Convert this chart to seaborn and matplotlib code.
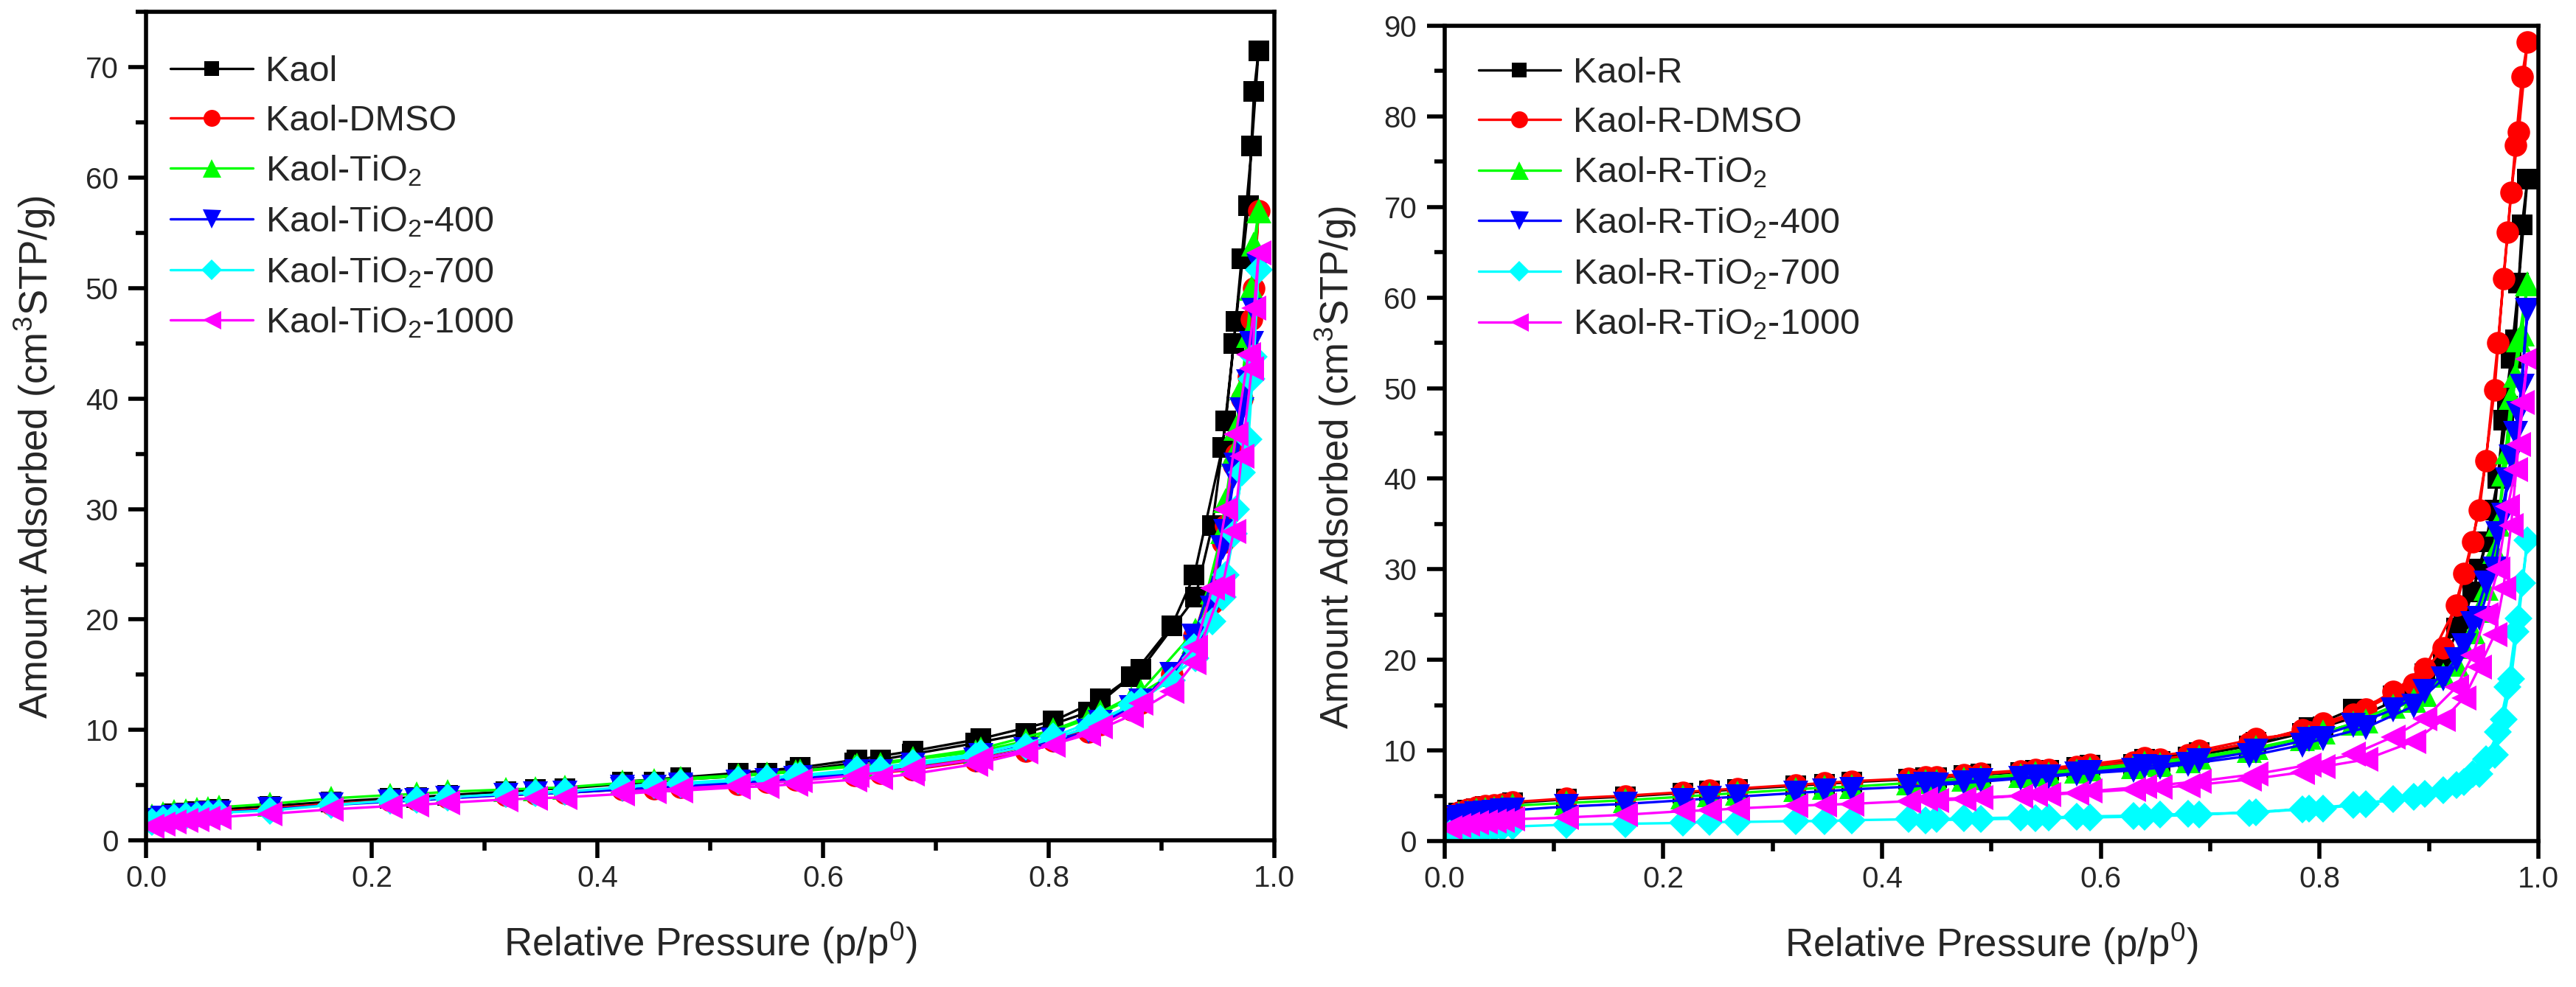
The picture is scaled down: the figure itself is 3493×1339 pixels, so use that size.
import matplotlib
matplotlib.use('Agg')
import pandas as pd
import matplotlib.pyplot as plt
from matplotlib.ticker import MultipleLocator, FormatStrFormatter
import seaborn as sns

sns.set_theme(style='ticks')
plt.rcParams['font.family'] = ['Liberation Sans', 'DejaVu Sans']
plt.rcParams['mathtext.fontset'] = 'custom'
plt.rcParams['mathtext.rm'] = 'Liberation Sans'
plt.rcParams['mathtext.default'] = 'regular'

# ---- left panel: Kaol samples ----
p_ads_l = [0.005, 0.015, 0.025, 0.035, 0.045, 0.055, 0.065, 0.110, 0.164, 0.216, 0.240, 0.267,
           0.319, 0.345, 0.371, 0.422, 0.450, 0.474, 0.525, 0.550, 0.576, 0.628, 0.651, 0.679,
           0.735, 0.780, 0.835, 0.873, 0.909, 0.929, 0.954, 0.964, 0.971, 0.980, 0.986]
p_des_l = [0.982, 0.977, 0.966, 0.957, 0.945, 0.930, 0.882, 0.846, 0.804, 0.740, 0.680, 0.630,
           0.580, 0.525, 0.474, 0.422]

kaol_ads = [2.0, 2.2, 2.4, 2.5, 2.6, 2.7, 2.8, 3.1, 3.5, 3.8, 3.9, 4.1, 4.4, 4.6, 4.7, 5.1, 5.3, 5.5,
            5.8, 6.1, 6.3, 7.0, 7.3, 7.8, 8.8, 9.7, 11.6, 14.8, 19.4, 24.0, 35.6, 45.0, 52.7, 62.9, 71.5]
kaol_des = [67.8, 57.5, 47.0, 38.0, 28.5, 22.0, 15.5, 12.8, 10.8, 9.2, 8.1, 7.3, 6.6, 6.1, 5.7, 5.3]

dmso_ads = [1.8, 2.0, 2.2, 2.3, 2.4, 2.5, 2.6, 2.9, 3.3, 3.6, 3.7, 3.9, 4.1, 4.2, 4.3, 4.6, 4.7, 4.8,
            5.1, 5.3, 5.5, 5.9, 6.1, 6.4, 7.2, 8.1, 9.8, 11.8, 15.0, 18.5, 27.0, 34.0, 40.0, 47.2, 57.0]
dmso_des = [50.0, 42.0, 35.0, 28.5, 21.5, 17.5, 12.4, 10.5, 9.0, 7.6, 6.7, 6.1, 5.6, 5.2, 4.9, 4.7]

tio2_ads = [2.2, 2.4, 2.6, 2.7, 2.8, 2.9, 3.0, 3.3, 3.8, 4.1, 4.2, 4.4, 4.6, 4.7, 4.8, 5.2, 5.4, 5.5,
            5.8, 6.0, 6.2, 6.7, 6.9, 7.3, 8.0, 9.0, 11.0, 12.8, 15.0, 18.0, 28.0, 35.0, 41.0, 50.0, 57.0]
tio2_des = [54.0, 45.7, 37.3, 30.8, 22.5, 19.0, 13.5, 11.6, 10.0, 8.3, 7.4, 6.8, 6.3, 5.9, 5.6, 5.3]

t400_ads = [1.8, 2.0, 2.1, 2.2, 2.3, 2.4, 2.5, 2.8, 3.2, 3.5, 3.6, 3.8, 4.1, 4.2, 4.3, 4.6, 4.8, 4.9,
            5.2, 5.4, 5.6, 6.0, 6.2, 6.5, 7.3, 8.2, 9.9, 12.0, 15.0, 18.5, 26.5, 33.0, 39.0, 45.0, 52.0]
t400_des = [48.0, 41.5, 34.0, 28.0, 21.0, 17.5, 12.6, 10.7, 9.1, 7.7, 6.8, 6.2, 5.7, 5.3, 5.0, 4.8]

t700_ads = [1.7, 1.9, 2.1, 2.2, 2.3, 2.4, 2.5, 2.7, 3.2, 3.6, 3.7, 3.9, 4.2, 4.3, 4.4, 4.8, 5.0, 5.1,
            5.4, 5.6, 5.8, 6.2, 6.4, 6.8, 7.6, 8.5, 10.2, 12.3, 14.5, 17.5, 22.0, 27.8, 33.3, 41.8, 51.7]
t700_des = [43.8, 36.3, 30.0, 24.0, 19.8, 16.5, 12.6, 11.0, 9.4, 7.9, 7.0, 6.4, 5.9, 5.5, 5.2, 4.9]

t1000_ads = [1.3, 1.5, 1.7, 1.8, 1.9, 2.0, 2.1, 2.4, 2.8, 3.1, 3.2, 3.4, 3.7, 3.8, 3.9, 4.2, 4.4, 4.5,
             4.8, 4.9, 5.1, 5.5, 5.7, 6.0, 6.9, 8.0, 9.6, 11.3, 13.5, 16.1, 23.0, 28.0, 34.8, 42.7, 53.2]
t1000_des = [48.2, 44.0, 36.8, 30.0, 22.8, 17.5, 12.4, 10.3, 8.6, 7.4, 6.5, 5.9, 5.4, 5.0, 4.7, 4.4]

labels_l = ['Kaol', 'Kaol-DMSO', 'Kaol-TiO$_2$', 'Kaol-TiO$_2$-400', 'Kaol-TiO$_2$-700',
            'Kaol-TiO$_2$-1000']

# ---- right panel: Kaol-R samples ----
p_ads_r = [0.005, 0.013, 0.021, 0.029, 0.037, 0.045, 0.053, 0.062, 0.111, 0.165, 0.218, 0.242,
           0.268, 0.321, 0.347, 0.372, 0.424, 0.450, 0.475, 0.527, 0.552, 0.578, 0.630, 0.654,
           0.680, 0.736, 0.784, 0.803, 0.842, 0.886, 0.913, 0.932, 0.946, 0.960, 0.968, 0.975,
           0.982, 0.990]
p_des_r = [0.985, 0.979, 0.972, 0.963, 0.952, 0.940, 0.925, 0.896, 0.867, 0.831, 0.790, 0.742,
           0.690, 0.640, 0.590, 0.540, 0.490, 0.440]

r_ads = [2.8, 3.1, 3.4, 3.6, 3.8, 3.9, 4.0, 4.2, 4.6, 4.9, 5.3, 5.5, 5.7, 6.1, 6.3, 6.5, 6.8, 7.0,
         7.2, 7.6, 7.8, 8.1, 8.5, 8.8, 9.3, 10.5, 11.9, 12.6, 14.0, 16.5, 20.0, 24.5, 30.0, 36.5,
         46.5, 53.3, 61.6, 73.1]
r_des = [68.0, 55.3, 48.0, 40.0, 33.0, 27.5, 23.5, 18.5, 16.0, 14.6, 12.5, 10.9, 9.8, 9.0, 8.4,
         7.8, 7.4, 7.0]

r_dmso_ads = [2.8, 3.2, 3.5, 3.7, 3.9, 4.0, 4.1, 4.3, 4.7, 5.0, 5.4, 5.6, 5.8, 6.2, 6.4, 6.6, 6.9,
              7.1, 7.3, 7.7, 7.9, 8.2, 8.7, 9.0, 9.5, 10.8, 12.3, 13.0, 14.6, 17.3, 21.3, 29.5,
              36.5, 49.8, 62.1, 71.6, 78.3, 88.2]
r_dmso_des = [84.4, 76.8, 67.2, 55.0, 42.0, 33.0, 26.0, 19.0, 16.5, 14.0, 12.0, 11.3, 10.0, 9.2,
              8.5, 7.9, 7.5, 7.1]

r_tio2_ads = [2.6, 3.0, 3.2, 3.4, 3.5, 3.6, 3.7, 3.9, 4.2, 4.5, 4.9, 5.1, 5.3, 5.7, 5.9, 6.0, 6.4,
              6.6, 6.8, 7.2, 7.4, 7.7, 8.2, 8.5, 8.9, 10.0, 11.3, 12.0, 13.3, 15.5, 18.3, 21.5,
              25.5, 32.0, 40.5, 49.0, 55.3, 61.5]
r_tio2_des = [56.0, 51.4, 43.0, 35.0, 27.9, 23.1, 19.5, 16.2, 14.9, 13.0, 11.5, 10.3, 9.3, 8.6,
              8.0, 7.5, 7.0, 6.6]

r_400_ads = [2.3, 2.6, 2.8, 3.0, 3.1, 3.2, 3.3, 3.4, 3.8, 4.1, 4.5, 4.7, 4.9, 5.3, 5.5, 5.7, 6.0,
             6.2, 6.4, 6.9, 7.1, 7.4, 7.8, 8.1, 8.5, 9.4, 10.6, 11.3, 12.5, 14.9, 17.9, 21.6, 24.6,
             30.0, 36.0, 42.4, 47.2, 58.6]
r_400_des = [50.2, 45.0, 39.9, 33.9, 28.5, 24.0, 20.0, 16.5, 14.5, 12.8, 11.2, 9.9, 8.9, 8.2, 7.6,
             7.1, 6.7, 6.3]

r_700_ads = [0.8, 0.9, 1.1, 1.2, 1.3, 1.4, 1.5, 1.6, 1.8, 1.9, 2.0, 2.1, 2.1, 2.2, 2.2, 2.3, 2.4,
             2.4, 2.5, 2.6, 2.6, 2.7, 2.8, 2.9, 3.0, 3.1, 3.5, 3.6, 4.1, 4.9, 5.6, 6.5, 7.4, 9.5,
             13.4, 17.9, 24.6, 33.2]
r_700_des = [28.5, 23.1, 17.0, 12.0, 9.0, 7.4, 6.2, 5.2, 4.6, 4.0, 3.6, 3.2, 2.9, 2.7, 2.6, 2.5,
             2.4, 2.3]

r_1000_ads = [1.5, 1.7, 1.9, 2.0, 2.1, 2.2, 2.3, 2.4, 2.6, 2.9, 3.3, 3.4, 3.6, 3.9, 4.0, 4.1, 4.4,
              4.5, 4.6, 5.0, 5.1, 5.3, 5.7, 5.9, 6.1, 6.8, 7.6, 8.2, 9.0, 11.0, 13.4, 15.8, 19.2,
              22.8, 27.9, 34.8, 43.8, 53.2]
r_1000_des = [48.4, 41.0, 36.9, 30.0, 25.0, 20.5, 17.0, 13.5, 11.5, 9.6, 8.4, 7.4, 6.6, 6.0, 5.5,
              5.1, 4.8, 4.6]

labels_r = ['Kaol-R', 'Kaol-R-DMSO', 'Kaol-R-TiO$_2$', 'Kaol-R-TiO$_2$-400', 'Kaol-R-TiO$_2$-700',
            'Kaol-R-TiO$_2$-1000']

colors = ['#000000', '#ff0000', '#00ff00', '#0000ff', '#00ffff', '#ff00ff']
markers = ['s', 'o', '^', 'v', 'D', '<']
msizes = [19.5, 22, 24, 24, 19, 24]


def draw_panel(ax, p_ads, p_des, branches, labels, ymax, legend_xy, ylab_xy):
    for (ads, des), lab, c, m, ms in zip(branches, labels, colors, markers, msizes):
        df = pd.DataFrame({'p': p_ads + p_des, 'v': ads + des})
        sns.lineplot(data=df, x='p', y='v', sort=False, estimator=None, ax=ax,
                     color=c, marker=m, markersize=ms, markeredgewidth=0,
                     linewidth=2.4, label=lab)
    ax.set_xlim(0, 1.0)
    ax.set_ylim(0, ymax)
    ax.xaxis.set_major_locator(MultipleLocator(0.2))
    ax.xaxis.set_minor_locator(MultipleLocator(0.1))
    ax.xaxis.set_major_formatter(FormatStrFormatter('%.1f'))
    ax.yaxis.set_major_locator(MultipleLocator(10))
    ax.yaxis.set_minor_locator(MultipleLocator(5))
    for sp in ax.spines.values():
        sp.set_visible(True)
        sp.set_linewidth(4)
        sp.set_color('black')
    ax.tick_params(which='both', direction='out', width=4, color='black',
                   top=False, right=False, bottom=True, left=True)
    ax.tick_params(which='major', length=17)
    ax.tick_params(which='minor', length=10)
    ax.tick_params(axis='x', which='major', labelsize=29, pad=7)
    ax.tick_params(axis='y', which='major', labelsize=29, pad=10)
    ax.set_xlabel('Relative Pressure (p/p$^0$)', fontsize=38, labelpad=27)
    ax.set_ylabel('Amount Adsorbed (cm$^3$STP/g)', fontsize=38)
    ax.yaxis.set_label_coords(*ylab_xy)
    handles, labs = ax.get_legend_handles_labels()
    ax.legend(handles, labs, loc='upper left', bbox_to_anchor=legend_xy, frameon=False,
              fontsize=35, borderpad=0, borderaxespad=0, handlelength=2.3,
              handletextpad=0.35, labelspacing=0.45, markerscale=0.75)


fig = plt.figure(figsize=(34.93, 13.39), dpi=100)
ax1 = fig.add_axes([0.0567, 0.1486, 0.4380, 0.8391])
ax2 = fig.add_axes([0.5608, 0.1479, 0.4246, 0.8260])

draw_panel(ax1, p_ads_l, p_des_l,
           [(kaol_ads, kaol_des), (dmso_ads, dmso_des), (tio2_ads, tio2_des),
            (t400_ads, t400_des), (t700_ads, t700_des), (t1000_ads, t1000_des)],
           labels_l, 75, (0.0216, 0.948), (-0.0784, 0.463))
draw_panel(ax2, p_ads_r, p_des_r,
           [(r_ads, r_des), (r_dmso_ads, r_dmso_des), (r_tio2_ads, r_tio2_des),
            (r_400_ads, r_400_des), (r_700_ads, r_700_des), (r_1000_ads, r_1000_des)],
           labels_r, 90, (0.0308, 0.962), (-0.079, 0.458))

fig.savefig('out.png', dpi=100)
